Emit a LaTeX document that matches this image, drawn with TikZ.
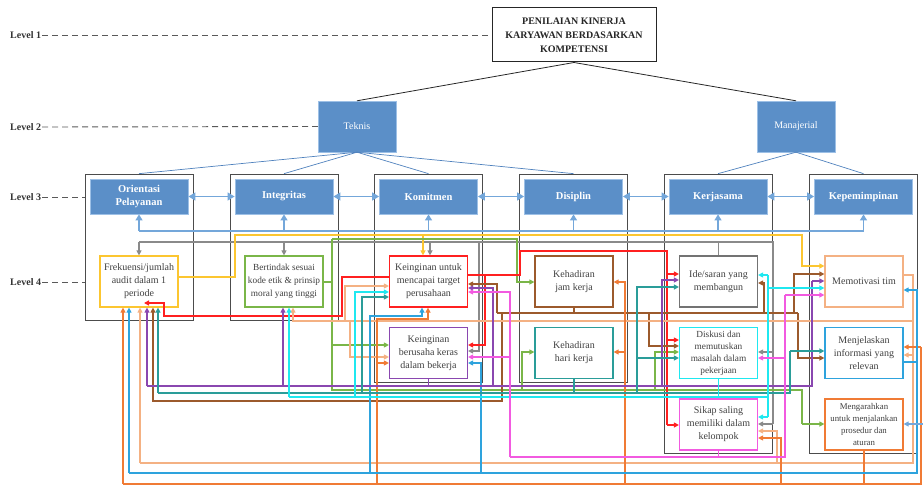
\documentclass[tikz,border=0pt]{standalone}
\usepackage{fontspec}
\setmainfont{Liberation Serif}
\usetikzlibrary{arrows.meta}
\definecolor{bfill}{HTML}{5B8FC8}
\definecolor{bedge}{HTML}{9DC0E6}
\definecolor{lbl}{HTML}{74A7DA}
\definecolor{gry}{HTML}{8A8A8A}
\definecolor{yel}{HTML}{FCC630}
\definecolor{grn}{HTML}{7AB648}
\definecolor{rd}{HTML}{FF2020}
\definecolor{brn}{HTML}{9C5A2C}
\definecolor{pch}{HTML}{F4B183}
\definecolor{org}{HTML}{F07B35}
\definecolor{blu}{HTML}{2EA3DD}
\definecolor{pur}{HTML}{8A47B0}
\definecolor{tel}{HTML}{2A9D99}
\definecolor{cyn}{HTML}{1FE8F0}
\definecolor{pnk}{HTML}{F25AE0}
\definecolor{stl}{HTML}{4F81BD}
\begin{document}
\begin{tikzpicture}[x=1pt,y=-1pt,>={Triangle[length=5pt,width=5pt]},
  lvl/.style={font=\fontsize{10}{11}\selectfont\bfseries, text=black!80, anchor=west, inner sep=1pt},
  lvldash/.style={dash pattern=on 6pt off 4pt, line width=0.9pt, draw=black!65},
  topbox/.style={draw=black!85, line width=1pt, fill=white, align=center, font=\fontsize{10}{14}\selectfont\bfseries, minimum width=164pt, minimum height=54pt, inner sep=0pt, text=black!85},
  ltwo/.style={fill=bfill, draw=bedge, minimum width=78pt, minimum height=51pt, text=white, font=\fontsize{10}{11}\selectfont, inner sep=0pt},
  lthree/.style={fill=bfill, draw=bedge, line width=0.8pt, minimum width=98pt, minimum height=35pt, text=white, font=\fontsize{10.5}{13}\selectfont\bfseries, align=center, inner sep=0pt},
  cont/.style={draw=black!70, line width=0.7pt, minimum width=108pt, inner sep=0pt},
  lfour/.style={draw=#1, line width=1.2pt, fill=white, minimum width=78pt, minimum height=51pt, align=center, inner sep=0pt, font=\fontsize{10}{13}\selectfont, text=black!75},
  wire/.style={draw=#1, line width=1.2pt},
  dbl/.style={draw=lbl, line width=1.2pt, {Triangle[length=7pt,width=8pt]}-{Triangle[length=7pt,width=8pt]}},
  upa/.style={draw=lbl, line width=1.2pt, -{Triangle[length=6pt,width=7pt]}}
  ]
\useasboundingbox (0,0) rectangle (923,486);

% containers
\node[cont, minimum height=146pt] (orC) at (139,247) {};
\node[cont, minimum height=146pt] (intC) at (284,247) {};
\node[cont, minimum height=208pt] (komC) at (428.5,278) {};
\node[cont, minimum height=208pt] (disC) at (573.5,278) {};
\node[cont, minimum height=279pt] (kerC) at (718,313.5) {};
\node[cont, minimum height=279pt] (kepC) at (863.5,313.5) {};

% top levels
\node[topbox] (top) at (574,35) {PENILAIAN KINERJA\\KARYAWAN BERDASARKAN\\KOMPETENSI};
\node[ltwo] (tek) at (357,126.5) {Teknis};
\node[ltwo] (man) at (796,126.5) {Manajerial};

% level labels
\node[lvl] (L1) at (9,35) {Level 1};
\node[lvl] (L2) at (9,127) {Level 2};
\node[lvl] (L3) at (9,197) {Level 3};
\node[lvl] (L4) at (9,282) {Level 4};
\draw[lvldash] (L1.east) -- (top.west);
\draw[lvldash] (L2.east) -- (tek.west);
\draw[lvldash] (L3.east) -- (orC.west |- L3.east);
\draw[lvldash] (L4.east) -- (orC.west |- L4.east);

\draw[black!85, line width=0.8pt] (top.south) -- (tek.north);
\draw[black!85, line width=0.8pt] (top.south) -- (man.north);
\foreach \c in {orC,intC,komC,disC} \draw[stl, line width=0.7pt] (tek.south) -- (\c.north);
\foreach \c in {kerC,kepC} \draw[stl, line width=0.7pt] (man.south) -- (\c.north);

% level 3 boxes
\node[lthree] (or) at (139,196.5) {Orientasi\\Pelayanan};
\node[lthree] (int) at (284,196.5) {Integritas};
\node[lthree] (kom) at (428.5,196.5) {Komitmen};
\node[lthree] (dis) at (573.5,196.5) {Disiplin};
\node[lthree] (ker) at (718,196.5) {Kerjasama};
\node[lthree] (kep) at (863.5,196.5) {Kepemimpinan};
\draw[dbl] (or.east) -- (int.west);
\draw[dbl] (int.east) -- (kom.west);
\draw[dbl] (kom.east) -- (dis.west);
\draw[dbl] (dis.east) -- (ker.west);
\draw[dbl] (ker.east) -- (kep.west);

\coordinate (lbR) at (923,424);

% light blue bus
\draw[draw=lbl, line width=1.2pt] (or.south |- 0,231) -- (kep.south |- 0,231);
\foreach \n in {or,int,kom,dis,ker,kep} \draw[upa] (\n.south |- 0,231) -- (\n.south);

% level 4 boxes
\node[lfour=yel] (frek) at (139,281.5) {Frekuensi/jumlah\\audit dalam 1\\periode};
\node[lfour=grn, font=\fontsize{9.3}{13}\selectfont] (bert) at (284,281.5) {Bertindak sesuai\\kode etik \& prinsip\\moral yang tinggi};
\node[lfour=rd] (target) at (428.5,281.5) {Keinginan untuk\\mencapai target\\perusahaan};
\node[lfour=brn] (jam) at (574,281.5) {Kehadiran\\jam kerja};
\node[lfour=black!55] (ide) at (718.5,281.5) {Ide/saran yang\\membangun};
\node[lfour=pch] (memo) at (864,281.5) {Memotivasi tim};
\node[lfour=pur] (keras) at (428.5,353) {Keinginan\\berusaha keras\\dalam bekerja};
\node[lfour=tel] (hari) at (574,353) {Kehadiran\\hari kerja};
\node[lfour=cyn, font=\fontsize{9.3}{12}\selectfont] (disk) at (718.5,353) {Diskusi dan\\memutuskan\\masalah dalam\\pekerjaan};
\node[lfour=blu] (menj) at (864,353) {Menjelaskan\\informasi yang\\relevan};
\node[lfour=pnk] (sikap) at (718.5,424.5) {Sikap saling\\memiliki dalam\\kelompok};
\node[lfour=org, font=\fontsize{8.8}{12}\selectfont] (meng) at (864,424.5) {Mengarahkan\\untuk menjalankan\\prosedur dan\\aturan};

% gray (Ide/saran)
\draw[wire=gry] (ide.north) -- (ide.north |- 0,242);
\draw[wire=gry] (frek.north |- 0,242) -- (773,242) -- (773,424);
\draw[wire=gry,->] (frek.north |- 0,242) -- (frek.north);
\draw[wire=gry,->] (bert.north |- 0,242) -- (bert.north);
\draw[wire=gry,->] (430,242) -- (target.north -| 430,0);
\draw[wire=gry,->] (773,352) -- (disk.east |- 0,352);
\draw[wire=gry,->] (773,424) -- (sikap.east |- 0,424);
\draw[wire=gry,->] (479,242) -- (479,351) -- (keras.east |- 0,351);

% yellow (Frekuensi)
\draw[wire=yel,->] (frek.east |- 0,277) -- (235,277) -- (235,235) -- (802,235) -- (802,266) -- (memo.west |- 0,266);
\draw[wire=yel,->] (423,235) -- (target.north -| 423,0);

% green (Bertindak)
\draw[wire=grn] (bert.east |- 0,282) -- (332,282);
\draw[wire=grn] (332,239) -- (332,390) -- (802,390) -- (802,424);
\draw[wire=grn,->] (332,239) -- (517,239) -- (517,282) -- (jam.west |- 0,282);
\draw[wire=grn,->] (332,345) -- (keras.west |- 0,345);
\draw[wire=grn,->] (522,390) -- (522,352) -- (hari.west |- 0,352);
\draw[wire=grn,->] (655,390) -- (655,352) -- (disk.west |- 0,352);
\draw[wire=grn,->] (802,424) -- (meng.west |- 0,424);

% red (target)
\draw[wire=rd] (target.east |- 0,275) -- (520,275) -- (520,251) -- (667,251) -- (667,425);
\draw[wire=rd,->] (667,274) -- (ide.west |- 0,274);
\draw[wire=rd,->] (667,340) -- (disk.west |- 0,340);
\draw[wire=rd,->] (667,425) -- (sikap.west |- 0,425);
\draw[wire=rd,->] (485,275) -- (485,345) -- (keras.east |- 0,345);
\draw[wire=rd,->] (target.west |- 0,277) -- (342,277) -- (342,316) -- (164,316) -- (164,303) -- (144,303);

% brown (jam kerja)
\draw[wire=brn] (jam.south) -- (jam.south |- 0,313);
\draw[wire=brn] (497,313) -- (798,313);
\draw[wire=brn,->] (497,313) -- (497,284) -- (target.east |- 0,284);
\draw[wire=brn,->] (764,313) -- (764,283) -- (ide.east |- 0,283);
\draw[wire=brn,->] (649,313) -- (649,346) -- (disk.west |- 0,346);
\draw[wire=brn,->] (794,313) -- (794,274) -- (memo.west |- 0,274);
\draw[wire=brn,->] (798,313) -- (798,358) -- (menj.west |- 0,358);
\draw[wire=brn,->] (502,313) -- (502,401) -- (153,401) -- (frek.south -| 153,0);

% peach (Memotivasi)
\draw[wire=pch] (memo.east |- 0,275) -- (913,275) -- (913,463) -- (140,463);
\draw[wire=pch,->] (140,463) -- (frek.south -| 140,0);
\draw[wire=pch,->] (913,321) -- (293,321) -- (bert.south -| 293,0);
\draw[wire=pch,->] (345,321) -- (345,286) -- (target.west |- 0,286);
\draw[wire=pch,->] (350,321) -- (350,357) -- (keras.west |- 0,357);
\draw[wire=pch,->] (913,355) -- (menj.east |- 0,355);
\draw[wire=pch,->] (777,463) -- (777,431) -- (sikap.east |- 0,431);

% orange (Mengarahkan)
\draw[wire=org] (meng.south) -- (meng.south |- 0,484);
\draw[wire=org] (123,484) -- (921,484) -- (921,347);
\draw[wire=org,->] (123,484) -- (frek.south -| 123,0);
\draw[wire=org,->] (921,347) -- (menj.east |- 0,347);
\draw[wire=org,->] (377,484) -- (377,319) -- (428,319) -- (target.south -| 428,0);
\draw[wire=org,->] (377,363) -- (keras.west |- 0,363);
\draw[wire=org,->] (625,484) -- (625,282) -- (jam.east |- 0,282);
\draw[wire=org,->] (625,352) -- (hari.east |- 0,352);
\draw[wire=org,->] (781,484) -- (781,438) -- (sikap.east |- 0,438);

% blue (Menjelaskan)
\draw[wire=blu] (menj.east |- 0,362) -- (917,362) -- (917,473) -- (129,473);
\draw[wire=blu,->] (129,473) -- (frek.south -| 129,0);
\draw[wire=blu,->] (917,362) -- (917,290) -- (memo.east |- 0,290);
\draw[wire=blu,->] (370,473) -- (370,316) -- (422,316) -- (target.south -| 422,0);
\draw[wire=blu,->] (481,473) -- (481,363) -- (keras.east |- 0,363);
\draw[wire=lbl,->] (lbR) -- (meng.east |- lbR);

% purple (keras)
\draw[wire=pur] (keras.south) -- (keras.south |- 0,386);
\draw[wire=pur] (147,386) -- (812,386) -- (812,281);
\draw[wire=pur,->] (147,386) -- (frek.south -| 147,0);
\draw[wire=pur,->] (283,386) -- (bert.south -| 283,0);
\draw[wire=pur,->] (493,386) -- (493,288) -- (target.east |- 0,288);
\draw[wire=pur,->] (662,386) -- (662,280) -- (ide.west |- 0,280);
\draw[wire=pur,->] (812,281) -- (memo.west |- 0,281);

% teal (hari kerja)
\draw[wire=tel] (hari.south) -- (hari.south |- 0,393);
\draw[wire=tel] (158,393) -- (790,393) -- (790,351);
\draw[wire=tel,->] (158,393) -- (frek.south -| 158,0);
\draw[wire=tel,->] (362,393) -- (362,297) -- (target.west |- 0,297);
\draw[wire=tel,->] (637,393) -- (637,287) -- (ide.west |- 0,287);
\draw[wire=tel,->] (637,358) -- (disk.west |- 0,358);
\draw[wire=tel,->] (790,351) -- (menj.west |- 0,351);

% cyan (Diskusi)
\draw[wire=cyn] (disk.south) -- (disk.south |- 0,397);
\draw[wire=cyn] (289,397) -- (768,397);
\draw[wire=cyn] (768,275) -- (768,417);
\draw[wire=cyn,->] (289,397) -- (bert.south -| 289,0);
\draw[wire=cyn,->] (355,397) -- (355,292) -- (target.west |- 0,292);
\draw[wire=cyn,->] (768,275) -- (ide.east |- 0,275);
\draw[wire=cyn,->] (768,417) -- (sikap.east |- 0,417);
\draw[wire=cyn,->] (768,288) -- (memo.west |- 0,288);

% pink (Sikap)
\draw[wire=pnk] (sikap.south) -- (sikap.south |- 0,457);
\draw[wire=pnk] (510,457) -- (785,457) -- (785,295);
\draw[wire=pnk,->] (510,457) -- (510,292) -- (target.east |- 0,292);
\draw[wire=pnk,->] (510,357) -- (keras.east |- 0,357);
\draw[wire=pnk,->] (785,358) -- (disk.east |- 0,358);
\draw[wire=pnk,->] (785,295) -- (memo.west |- 0,295);
\end{tikzpicture}
\end{document}
